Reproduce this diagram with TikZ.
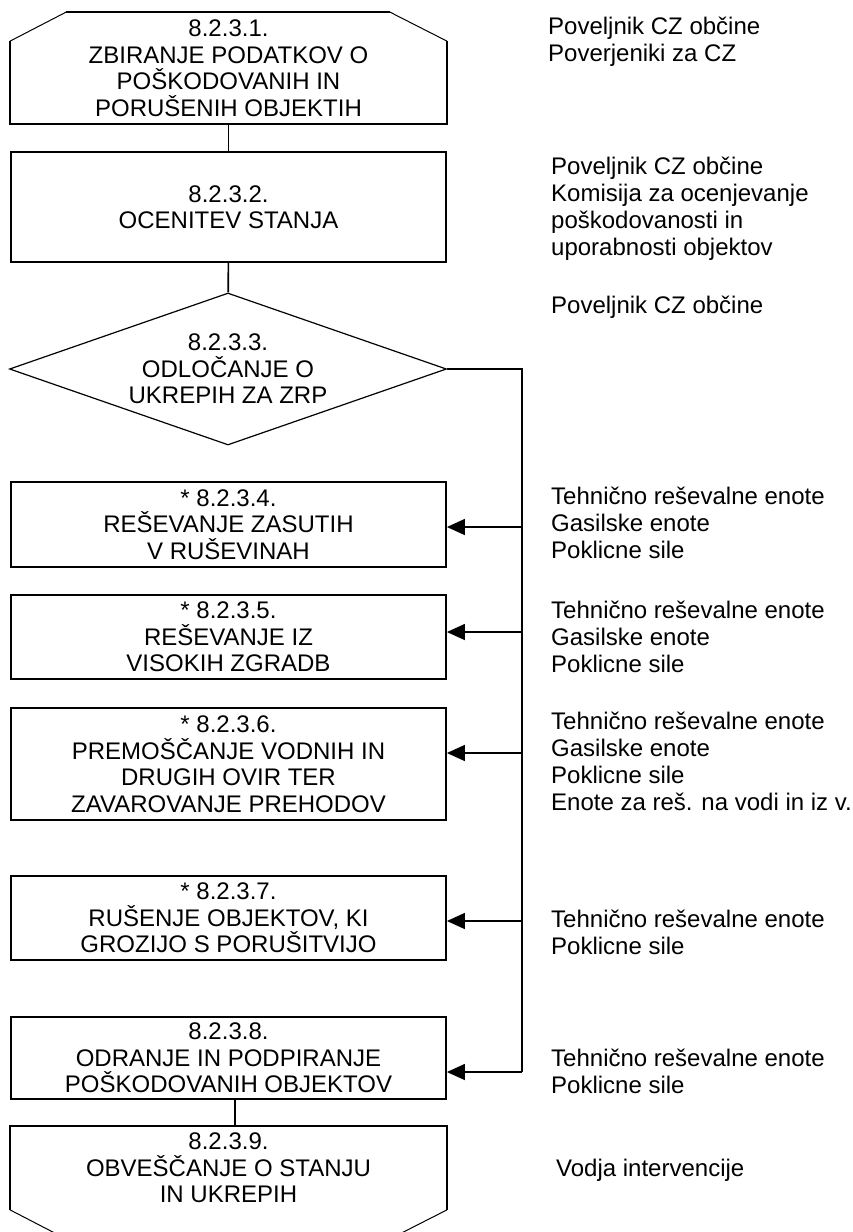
\documentclass[tikz,border=0pt]{standalone}
\usepackage{fontspec}
\setmainfont{Liberation Sans}
\usetikzlibrary{shapes.geometric,arrows.meta}

\tikzset{
  procbox/.style={draw,line width=1.8pt,minimum width=435pt,inner sep=0pt,align=center,
    font=\fontsize{24}{26.5}\selectfont},
  whotext/.style={anchor=west,align=left,inner sep=0pt,font=\fontsize{24}{27}\selectfont},
  link/.style={line width=1.6pt},
  feed/.style={line width=1.4pt,-{Triangle[length=18pt,width=16pt]}}
}

\begin{document}
\begin{tikzpicture}[x=1pt,y=-1pt]
    \useasboundingbox (0,0) rectangle (853,1232);

    % Steps on the left
    \node[procbox,draw=none,minimum height=110pt] (zbir) at (228.5,68) {8.2.3.1.\\ZBIRANJE PODATKOV O\\POŠKODOVANIH IN\\PORUŠENIH OBJEKTIH};
    \draw[line width=1.8pt] ([xshift=56pt]zbir.north west) -- ([xshift=-57pt]zbir.north east);
    \draw[line width=1.8pt] ([yshift=-29pt]zbir.north west) -- (zbir.south west) -- (zbir.south east) -- ([yshift=-29pt]zbir.north east);
    \draw[line width=1pt] ([yshift=-29pt]zbir.north west) -- ([xshift=56pt]zbir.north west);
    \draw[line width=1pt] ([yshift=-29pt]zbir.north east) -- ([xshift=-57pt]zbir.north east);

    \node[procbox,minimum height=110pt] (ocen) at (228.5,207) {8.2.3.2.\\OCENITEV STANJA};

    \node[draw,diamond,line width=1.2pt,minimum width=437pt,minimum height=152pt,aspect=2.875,
      inner sep=0pt,align=center,font=\fontsize{24}{26.5}\selectfont] (odl) at (228,369) {8.2.3.3.\\ODLOČANJE O\\UKREPIH ZA ZRP};

    \node[procbox,minimum height=85pt] (resz) at (228.5,524.5) {* 8.2.3.4.\\REŠEVANJE ZASUTIH\\V RUŠEVINAH};
    \node[procbox,minimum height=84pt] (resv) at (228.5,637) {* 8.2.3.5.\\REŠEVANJE IZ\\VISOKIH ZGRADB};
    \node[procbox,minimum height=112pt] (prem) at (228.5,764) {* 8.2.3.6.\\PREMOŠČANJE VODNIH IN\\DRUGIH OVIR TER\\ZAVAROVANJE PREHODOV};
    \node[procbox,minimum height=84pt] (rus) at (228.5,918) {* 8.2.3.7.\\RUŠENJE OBJEKTOV, KI\\GROZIJO S PORUŠITVIJO};
    \node[procbox,minimum height=82pt] (odr) at (228.5,1058) {8.2.3.8.\\ODRANJE IN PODPIRANJE\\POŠKODOVANIH OBJEKTOV};

    \node[procbox,draw=none,minimum height=82pt] (obv) at (228.5,1168) {8.2.3.9.\\OBVEŠČANJE O STANJU\\IN UKREPIH};
    \draw[line width=1.8pt] (obv.south west) -- (obv.north west) -- (obv.north east) -- (obv.south east);
    \draw[line width=1pt] (obv.south west) -- ([xshift=56pt,yshift=-29pt]obv.south west);
    \draw[line width=1pt] (obv.south east) -- ([xshift=-57pt,yshift=-29pt]obv.south east);
    \draw[line width=1.8pt] ([xshift=56pt,yshift=-29pt]obv.south west) -- ([xshift=-57pt,yshift=-29pt]obv.south east);

    % Main line
    \draw[link] (zbir) -- (ocen);
    \draw[link] (ocen) -- (odl);
    \draw[link] ([xshift=6.5pt]odr.south) -- ([xshift=6.5pt]obv.north);

    % Branches from the decision
    \coordinate (tap4) at (522,527);
    \coordinate (tap5) at (522,632);
    \coordinate (tap6) at (522,753);
    \coordinate (tap7) at (522,921);
    \coordinate (tap8) at (522,1072);
    \draw[link] (odl.east) -| (tap8);
    \draw[feed] (tap4) -- (tap4 -| resz.east);
    \draw[feed] (tap5) -- (tap5 -| resv.east);
    \draw[feed] (tap6) -- (tap6 -| prem.east);
    \draw[feed] (tap7) -- (tap7 -| rus.east);
    \draw[feed] (tap8) -- (tap8 -| odr.east);

    % Who is responsible
    \node[whotext] (who1) at (548,42) {Poveljnik CZ občine\\Poverjeniki za CZ};
    \node[whotext] (who2) at (551,209) {Poveljnik CZ občine\\Komisija za ocenjevanje\\poškodovanosti in\\uporabnosti objektov};
    \node[whotext] (who3) at (551,307.5) {Poveljnik CZ občine};
    \node[whotext] (who4) at (551,523) {Tehnično reševalne enote\\Gasilske enote\\Poklicne sile};
    \node[whotext] (who5) at (551,637) {Tehnično reševalne enote\\Gasilske enote\\Poklicne sile};
    \node[whotext] (who6) at (551,761.5) {Tehnično reševalne enote\\Gasilske enote\\Poklicne sile\\Enote za reš. na vodi in iz v.};
    \node[whotext] (who7) at (551,932.5) {Tehnično reševalne enote\\Poklicne sile};
    \node[whotext] (who8) at (551,1071.5) {Tehnično reševalne enote\\Poklicne sile};
    \node[whotext] (who9) at (556,1170.5) {Vodja intervencije};
\end{tikzpicture}
\end{document}
